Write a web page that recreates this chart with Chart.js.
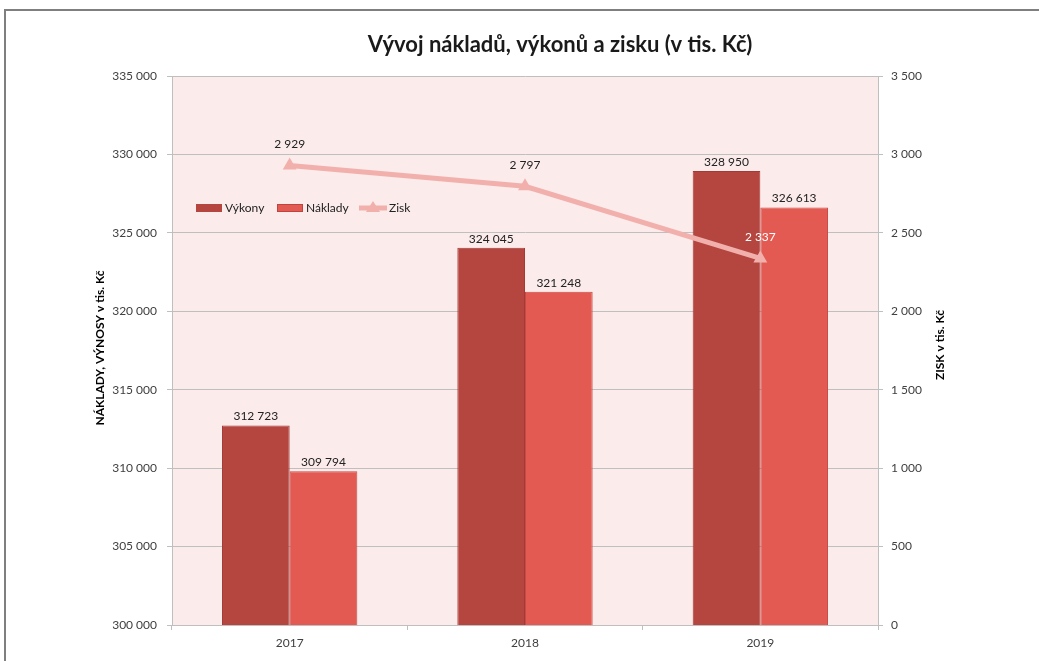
<!DOCTYPE html>
<html>
<head>
<meta charset="utf-8">
<script src="https://cdn.jsdelivr.net/npm/chart.js@4.4.1/dist/chart.umd.min.js"></script>
<style>
  html, body { margin: 0; padding: 0; background: #fff; }
</style>
</head>
<body>
<canvas id="chart" width="1039" height="661"></canvas>
<script>
// data
const years = ['2017', '2018', '2019'];
const vykony = [312723, 324045, 328950];
const naklady = [309794, 321248, 326613];
const zisk = [2929, 2797, 2337];

// axis ranges
const leftMin = 300000, leftMax = 335000, leftStep = 5000;
const rightMin = 0, rightMax = 3500, rightStep = 500;

const FONT = 'Lato, "Open Sans", sans-serif';
const TEXT = '#404040';
const GRID = '#BFBFBF';
const colVykony = '#B5453F';
const colNaklady = '#E35A53';
const colZisk = '#F2B0AD';

function fmt(n) {
  return String(Math.round(n)).replace(/\B(?=(\d{3})+(?!\d))/g, ' ');
}

// background, plot area fill and outer frame
const backgroundPlugin = {
  id: 'background',
  beforeDraw(chart) {
    const ctx = chart.ctx;
    const a = chart.chartArea;
    ctx.save();
    ctx.fillStyle = '#fff';
    ctx.fillRect(0, 0, chart.width, chart.height);
    ctx.fillStyle = '#FCEBEB';
    ctx.fillRect(a.left, a.top, a.right - a.left, a.bottom - a.top);
    ctx.strokeStyle = '#7F7F7F';
    ctx.lineWidth = 2;
    ctx.strokeRect(5, 10, chart.width + 20, chart.height + 20);
    ctx.restore();
  }
};

// value labels on bars and line points
const valueLabels = {
  id: 'valueLabels',
  afterDatasetsDraw(chart) {
    const ctx = chart.ctx;
    ctx.save();
    ctx.font = '12px ' + FONT;
    ctx.textAlign = 'center';
    ctx.textBaseline = 'middle';
    chart.data.datasets.forEach((ds, i) => {
      const meta = chart.getDatasetMeta(i);
      meta.data.forEach((el, j) => {
        if (ds.type === 'line') {
          ctx.fillStyle = j === 2 ? '#ffffff' : '#222';
          ctx.fillText(fmt(ds.data[j]), el.x, el.y - 21);
        } else {
          ctx.fillStyle = '#222';
          ctx.fillText(fmt(ds.data[j]), el.x, el.y - 9);
        }
      });
    });
    ctx.restore();
  }
};

// title, axis titles and the legend inside the plot
const decorations = {
  id: 'decorations',
  afterDraw(chart) {
    const ctx = chart.ctx;
    ctx.save();
    ctx.fillStyle = '#1a1a1a';
    ctx.textAlign = 'center';
    ctx.textBaseline = 'middle';
    ctx.font = 'bold 22px ' + FONT;
    ctx.fillText('Vývoj nákladů, výkonů a zisku (v tis. Kč)', 560, 45);

    ctx.font = 'bold 12px ' + FONT;
    ctx.fillStyle = '#000';
    ctx.save();
    ctx.translate(100, 348);
    ctx.rotate(-Math.PI / 2);
    ctx.fillText('NÁKLADY, VÝNOSY v tis. Kč', 0, 0);
    ctx.restore();
    ctx.save();
    ctx.translate(940, 345);
    ctx.rotate(-Math.PI / 2);
    ctx.fillText('ZISK v tis. Kč', 0, 0);
    ctx.restore();

    // legend
    const y = 208;
    ctx.font = '12px ' + FONT;
    ctx.textAlign = 'left';
    ctx.fillStyle = colVykony;
    ctx.fillRect(196, y - 4, 26, 8);
    ctx.fillStyle = '#222';
    ctx.fillText(chart.data.datasets[1].label, 225, y);
    ctx.fillStyle = colNaklady;
    ctx.fillRect(277, y - 4, 26, 8);
    ctx.strokeStyle = '#C0443E';
    ctx.lineWidth = 1;
    ctx.strokeRect(277.5, y - 3.5, 25, 7);
    ctx.fillStyle = '#222';
    ctx.fillText(chart.data.datasets[2].label, 306, y);
    ctx.strokeStyle = colZisk;
    ctx.lineWidth = 5;
    ctx.beginPath();
    ctx.moveTo(359, y);
    ctx.lineTo(387, y);
    ctx.stroke();
    ctx.fillStyle = colZisk;
    ctx.beginPath();
    ctx.moveTo(373, y - 7);
    ctx.lineTo(380, y + 4);
    ctx.lineTo(366, y + 4);
    ctx.closePath();
    ctx.fill();
    ctx.fillStyle = '#222';
    ctx.fillText(chart.data.datasets[0].label, 389, y);
    ctx.restore();
  }
};

const ctx = document.getElementById('chart');
new Chart(ctx, {
  data: {
    labels: years,
    datasets: [
      {
        type: 'line',
        label: 'Zisk',
        data: zisk,
        yAxisID: 'y1',
        order: 0,
        borderColor: colZisk,
        backgroundColor: colZisk,
        borderWidth: 5,
        pointStyle: 'triangle',
        pointRadius: 8,
        pointBorderWidth: 0,
        tension: 0
      },
      {
        type: 'bar',
        label: 'Výkony',
        data: vykony,
        yAxisID: 'y',
        order: 1,
        backgroundColor: colVykony,
        borderColor: '#A33A35',
        borderWidth: 1,
        categoryPercentage: 0.575,
        barPercentage: 1
      },
      {
        type: 'bar',
        label: 'Náklady',
        data: naklady,
        yAxisID: 'y',
        order: 1,
        backgroundColor: colNaklady,
        borderColor: '#C94A44',
        borderWidth: 1,
        categoryPercentage: 0.575,
        barPercentage: 1
      }
    ]
  },
  options: {
    responsive: false,
    animation: false,
    devicePixelRatio: 1,
    layout: { padding: { left: 0, right: 0, top: 76, bottom: 0 } },
    plugins: {
      legend: { display: false },
      title: { display: false },
      tooltip: { enabled: false }
    },
    scales: {
      x: {
        offset: true,
        grid: { display: true, drawOnChartArea: false, offset: true, tickLength: 5, color: GRID },
        border: { color: GRID },
        ticks: { color: TEXT, font: { family: FONT, size: 12 }, padding: 6, maxRotation: 0 },
        afterFit(s) { s.height = 36; }
      },
      y: {
        position: 'left',
        min: leftMin,
        max: leftMax,
        ticks: { stepSize: leftStep, color: TEXT, font: { family: FONT, size: 12 }, padding: 10, callback: v => fmt(v) },
        grid: { color: GRID, tickLength: 5 },
        border: { color: GRID },
        afterFit(s) { s.width = 172; }
      },
      y1: {
        position: 'right',
        min: rightMin,
        max: rightMax,
        ticks: { stepSize: rightStep, color: TEXT, font: { family: FONT, size: 12 }, padding: 8, callback: v => fmt(v) },
        grid: { drawOnChartArea: false, color: GRID, tickLength: 5 },
        border: { color: GRID },
        afterFit(s) { s.width = 161; }
      }
    }
  },
  plugins: [backgroundPlugin, valueLabels, decorations]
});
</script>
</body>
</html>
